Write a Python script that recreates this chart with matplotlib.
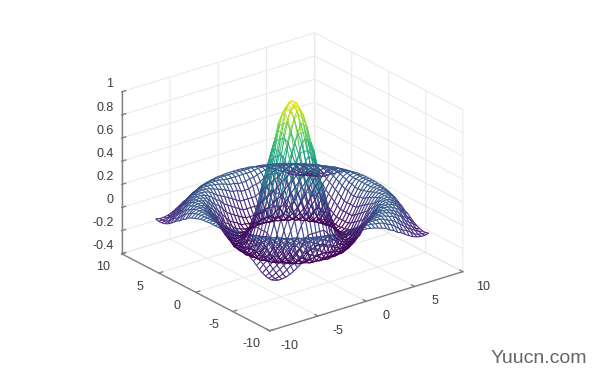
import numpy as np
import matplotlib
matplotlib.use("Agg")
from matplotlib import pyplot as plt
from mpl_toolkits.mplot3d import proj3d
from mpl_toolkits.mplot3d.art3d import Line3DCollection

plt.rcParams['font.family'] = ['Liberation Sans', 'DejaVu Sans']

# height of the surface against distance from the centre, one value per 0.125.
# Not measured point by point: the shape looks like sin(r)/r, so these are that
# curve's values worked out by hand. Each mesh node takes the nearest entry.
profile_step = 0.125
profile = [1.0, .997, .990, .977, .959, .936, .909, .877, .841, .802, .759, .713,
           .665, .614, .562, .509, .455, .400, .346, .292, .239, .188, .139, .092,
           .047, .005, -.033, -.068, -.100, -.128, -.152, -.173, -.189, -.202, -.211, -.216,
           -.217, -.215, -.210, -.202, -.192, -.179, -.164, -.147, -.128, -.109, -.088, -.068,
           -.047, -.026, -.005, .014, .033, .050, .067, .081, .094, .105, .114, .120,
           .125, .128, .128, .127, .124, .119, .112, .104, .094, .083, .071, .059,
           .046, .032, .019, .005, -.008, -.021, -.033, -.044, -.054, -.064, -.072, -.078,
           -.084, -.088, -.090, -.091, -.091, -.089, -.086, -.082]
grid_values = np.arange(-8, 8.2, 0.4)
xy_ticks = [-10, -5, 0, 5, 10]
z_ticks = [-0.4, -0.2, 0, 0.2, 0.4, 0.6, 0.8, 1]
z_labels = ['-0.4', '-0.2', '0', '0.2', '0.4', '0.6', '0.8', '1']

X, Y = np.meshgrid(grid_values, grid_values)
R = np.sqrt(X**2 + Y**2)
Z = np.array(profile)[np.rint(R / profile_step).astype(int)]

fig = plt.figure(figsize=(6, 3.87), dpi=100)
ax = fig.add_axes([-0.0225, -0.0345, 1, 1.1], projection='3d', proj_type='ortho')
ax.view_init(elev=23.5, azim=-127.5)
ax.set_box_aspect((1, 1, 0.726), zoom=0.882)

# mesh lines along both grid directions, coloured by height
points = np.stack([X, Y, Z], axis=-1)
segs = np.concatenate([
    np.stack([points[:-1, :], points[1:, :]], axis=2).reshape(-1, 2, 3),
    np.stack([points[:, :-1], points[:, 1:]], axis=2).reshape(-1, 2, 3),
])
norm = plt.Normalize(Z.min(), Z.max())
lines = Line3DCollection(segs, cmap='viridis', norm=norm, linewidths=0.8)
lines.set_array(segs[:, :, 2].mean(axis=1))
ax.add_collection3d(lines)

ax.set_xlim(-10, 10)
ax.set_ylim(-10, 10)
ax.set_zlim(-0.4, 1)
ax.set_xticks(xy_ticks)
ax.set_yticks(xy_ticks)
ax.set_zticks(z_ticks)
ax.set_xticklabels([])
ax.set_yticklabels([])
ax.set_zticklabels([])

for axis in (ax.xaxis, ax.yaxis, ax.zaxis):
    axis.set_pane_color((1, 1, 1, 0))
    axis.pane.set_edgecolor('#e4e4e4')
    axis.line.set_color('#808080')
    axis.line.set_linewidth(1.0)
    axis._axinfo['grid'].update(color='#e8e8e8', linewidth=0.7)
    axis._axinfo['tick'].update(inward_factor=0.0, outward_factor=0.25, linewidth={True: 1.0, False: 0.5})
ax.tick_params(colors='#808080')


def put_label(x, y, z, s, ha='center'):
    # tick labels sit further from the axes than mplot3d puts them
    px, py, _ = proj3d.proj_transform(x, y, z, ax.get_proj())
    ax.text2D(px, py, s, transform=ax.transData, ha=ha, va='center',
              fontsize=9, color='#3c3c3c')


for t in xy_ticks:
    put_label(t, -12.7, -0.44, str(t))
    put_label(-11.9, t, -0.47, str(t))
for t, s in zip(z_ticks, z_labels):
    put_label(-10.85, 10, t + 0.085, s, ha='right')

fig.text(0.817, 0.062, 'Yuucn.com', fontsize=14, color='#666666', va='baseline')

fig.savefig('out.png', dpi=100)
